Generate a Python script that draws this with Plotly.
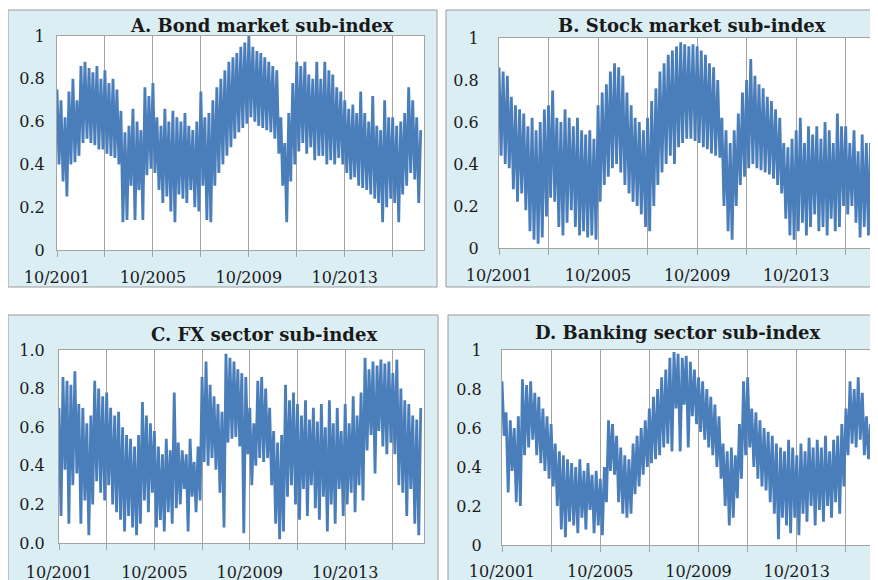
import pandas as pd
import plotly.graph_objects as go

# monthly readings from Oct 2001 to Dec 2016, one row per Oct..Sep year
bond = [
    0.75, 0.40, 0.70, 0.32, 0.62, 0.25, 0.74, 0.40, 0.80, 0.41, 0.70, 0.44,
    0.86, 0.50, 0.88, 0.52, 0.85, 0.50, 0.83, 0.49, 0.86, 0.47, 0.80, 0.47,
    0.84, 0.45, 0.78, 0.44, 0.80, 0.43, 0.75, 0.40, 0.65, 0.13, 0.55, 0.14,
    0.58, 0.30, 0.66, 0.14, 0.60, 0.28, 0.56, 0.14, 0.76, 0.35, 0.72, 0.38,
    0.78, 0.36, 0.62, 0.28, 0.58, 0.22, 0.66, 0.25, 0.60, 0.18, 0.65, 0.13,
    0.62, 0.26, 0.60, 0.24, 0.64, 0.22, 0.58, 0.28, 0.56, 0.20, 0.60, 0.18,
    0.74, 0.30, 0.62, 0.14, 0.64, 0.13, 0.70, 0.30, 0.76, 0.36, 0.80, 0.40,
    0.84, 0.44, 0.88, 0.48, 0.90, 0.52, 0.92, 0.55, 0.95, 0.57, 0.97, 0.59,
    1.00, 0.62, 0.95, 0.60, 0.93, 0.58, 0.92, 0.57, 0.90, 0.56, 0.88, 0.55,
    0.86, 0.52, 0.84, 0.45, 0.62, 0.30, 0.50, 0.13, 0.64, 0.32, 0.78, 0.40,
    0.88, 0.46, 0.86, 0.50, 0.88, 0.45, 0.82, 0.48, 0.80, 0.42, 0.88, 0.44,
    0.80, 0.44, 0.88, 0.40, 0.84, 0.42, 0.82, 0.40, 0.76, 0.43, 0.74, 0.40,
    0.70, 0.36, 0.66, 0.33, 0.68, 0.34, 0.64, 0.30, 0.74, 0.29, 0.64, 0.28,
    0.60, 0.26, 0.72, 0.24, 0.58, 0.22, 0.56, 0.13, 0.70, 0.20, 0.62, 0.24,
    0.62, 0.22, 0.58, 0.13, 0.60, 0.26, 0.64, 0.30, 0.76, 0.36, 0.70, 0.33,
    0.62, 0.22, 0.56,
]

stock = [
    0.86, 0.44, 0.84, 0.40, 0.82, 0.38, 0.72, 0.28, 0.68, 0.22, 0.66, 0.26,
    0.64, 0.18, 0.58, 0.08, 0.62, 0.04, 0.56, 0.02, 0.60, 0.05, 0.66, 0.15,
    0.68, 0.24, 0.75, 0.22, 0.62, 0.10, 0.60, 0.06, 0.66, 0.12, 0.62, 0.18,
    0.58, 0.10, 0.62, 0.06, 0.56, 0.08, 0.54, 0.05, 0.56, 0.06, 0.52, 0.04,
    0.68, 0.22, 0.74, 0.30, 0.78, 0.34, 0.84, 0.38, 0.88, 0.40, 0.86, 0.36,
    0.82, 0.30, 0.74, 0.26, 0.68, 0.22, 0.62, 0.20, 0.60, 0.16, 0.56, 0.10,
    0.62, 0.08, 0.70, 0.20, 0.76, 0.30, 0.84, 0.36, 0.88, 0.40, 0.92, 0.44,
    0.94, 0.40, 0.96, 0.48, 0.98, 0.50, 0.97, 0.52, 0.96, 0.52, 0.97, 0.51,
    0.96, 0.50, 0.94, 0.48, 0.92, 0.47, 0.88, 0.45, 0.86, 0.44, 0.80, 0.43,
    0.62, 0.20, 0.56, 0.08, 0.50, 0.04, 0.56, 0.20, 0.64, 0.30, 0.74, 0.34,
    0.80, 0.38, 0.90, 0.40, 0.82, 0.38, 0.78, 0.37, 0.76, 0.36, 0.72, 0.35,
    0.70, 0.33, 0.66, 0.30, 0.62, 0.26, 0.50, 0.14, 0.48, 0.06, 0.52, 0.04,
    0.56, 0.08, 0.62, 0.12, 0.50, 0.06, 0.58, 0.10, 0.54, 0.16, 0.58, 0.08,
    0.52, 0.10, 0.60, 0.06, 0.56, 0.14, 0.50, 0.08, 0.64, 0.10, 0.58, 0.20,
    0.58, 0.16, 0.50, 0.20, 0.56, 0.12, 0.46, 0.05, 0.54, 0.10, 0.50, 0.06,
    0.50, 0.18, 0.48,
]

fx = [
    0.70, 0.14, 0.86, 0.38, 0.84, 0.10, 0.82, 0.30, 0.89, 0.36, 0.72, 0.10,
    0.70, 0.22, 0.62, 0.04, 0.66, 0.20, 0.84, 0.32, 0.80, 0.26, 0.76, 0.22,
    0.78, 0.30, 0.70, 0.20, 0.66, 0.16, 0.68, 0.12, 0.60, 0.06, 0.56, 0.14,
    0.54, 0.08, 0.50, 0.04, 0.56, 0.10, 0.73, 0.22, 0.66, 0.16, 0.62, 0.26,
    0.58, 0.08, 0.50, 0.12, 0.46, 0.06, 0.54, 0.16, 0.48, 0.10, 0.78, 0.18,
    0.52, 0.20, 0.48, 0.28, 0.46, 0.06, 0.54, 0.24, 0.42, 0.16, 0.50, 0.22,
    0.86, 0.42, 0.94, 0.40, 0.82, 0.44, 0.76, 0.38, 0.72, 0.26, 0.68, 0.08,
    0.98, 0.52, 0.96, 0.54, 0.94, 0.55, 0.90, 0.50, 0.88, 0.05, 0.86, 0.46,
    0.70, 0.30, 0.62, 0.40, 0.84, 0.44, 0.86, 0.42, 0.80, 0.44, 0.70, 0.30,
    0.58, 0.10, 0.52, 0.02, 0.56, 0.06, 0.82, 0.24, 0.74, 0.30, 0.78, 0.20,
    0.72, 0.12, 0.66, 0.28, 0.74, 0.14, 0.64, 0.30, 0.70, 0.18, 0.63, 0.12,
    0.72, 0.24, 0.60, 0.06, 0.74, 0.20, 0.62, 0.10, 0.70, 0.28, 0.58, 0.14,
    0.72, 0.20, 0.62, 0.26, 0.76, 0.16, 0.66, 0.30, 0.78, 0.22, 0.96, 0.48,
    0.90, 0.56, 0.94, 0.36, 0.92, 0.58, 0.95, 0.50, 0.93, 0.46, 0.94, 0.52,
    0.88, 0.46, 0.95, 0.30, 0.80, 0.26, 0.74, 0.14, 0.72, 0.28, 0.66, 0.10,
    0.64, 0.04, 0.70,
]

banking = [
    0.84, 0.56, 0.68, 0.27, 0.64, 0.38, 0.60, 0.22, 0.66, 0.20, 0.85, 0.46,
    0.82, 0.50, 0.84, 0.54, 0.78, 0.46, 0.76, 0.42, 0.70, 0.38, 0.66, 0.34,
    0.62, 0.30, 0.52, 0.20, 0.48, 0.08, 0.46, 0.04, 0.44, 0.12, 0.42, 0.10,
    0.40, 0.06, 0.44, 0.14, 0.38, 0.08, 0.42, 0.18, 0.36, 0.06, 0.38, 0.10,
    0.34, 0.05, 0.40, 0.22, 0.64, 0.38, 0.62, 0.36, 0.56, 0.22, 0.50, 0.16,
    0.46, 0.14, 0.44, 0.16, 0.52, 0.26, 0.56, 0.30, 0.60, 0.36, 0.64, 0.40,
    0.70, 0.42, 0.76, 0.44, 0.80, 0.46, 0.86, 0.50, 0.90, 0.52, 0.96, 0.48,
    0.99, 0.70, 0.98, 0.48, 0.96, 0.72, 0.97, 0.50, 0.94, 0.66, 0.90, 0.62,
    0.86, 0.58, 0.84, 0.54, 0.80, 0.50, 0.76, 0.46, 0.72, 0.40, 0.66, 0.34,
    0.52, 0.20, 0.48, 0.10, 0.50, 0.14, 0.46, 0.24, 0.62, 0.34, 0.84, 0.46,
    0.86, 0.50, 0.70, 0.40, 0.68, 0.34, 0.64, 0.30, 0.60, 0.28, 0.58, 0.22,
    0.56, 0.16, 0.52, 0.03, 0.50, 0.14, 0.48, 0.10, 0.54, 0.06, 0.50, 0.14,
    0.46, 0.05, 0.52, 0.16, 0.48, 0.12, 0.55, 0.20, 0.50, 0.10, 0.54, 0.18,
    0.50, 0.12, 0.56, 0.20, 0.48, 0.14, 0.54, 0.22, 0.56, 0.16, 0.62, 0.30,
    0.70, 0.46, 0.84, 0.52, 0.80, 0.50, 0.86, 0.54, 0.78, 0.46, 0.66, 0.44,
    0.62, 0.30, 0.58,
]

titles = [
    "A. Bond market sub-index",
    "B. Stock market sub-index",
    "C. FX sector sub-index",
    "D. Banking sector sub-index",
]
xtick_labels = ["10/2001", "", "10/2005", "", "10/2009", "", "10/2013", ""]
ytick_vals = [0, 0.2, 0.4, 0.6, 0.8, 1]
ytick_plain = ["0", "0.2", "0.4", "0.6", "0.8", "1"]
ytick_fixed = ["0.0", "0.2", "0.4", "0.6", "0.8", "1.0"]

dates = pd.date_range("2001-10-01", periods=len(bond), freq="MS")
xtick_vals = pd.date_range("2001-10-01", periods=len(xtick_labels), freq="24MS")

# the page body adds an 8px margin, so the figure is drawn 8px smaller
# and all target pixel positions are shifted by that offset
OFF = 8
W, H = 878 - OFF, 580 - OFF
LINE = "#4a7ebb"
GRID = "#a3a3a3"
FONT = "DejaVu Serif"


def px(x):
    return (x - OFF) / W


def py(y):
    return 1 - (y - OFF) / H


# target pixels: plot area (x0, x1, y0, y1), outer panel (x0, y0, x1, y1)
panels = [
    dict(data=bond, plot=(57, 424, 36, 250), box=(8, 10, 437, 287), title=(262, 26),
         yt=ytick_plain, ystand=8, xstand=7),
    dict(data=stock, plot=(499, 878, 38, 248), box=(446, 10, 877, 287), title=(692, 26),
         yt=ytick_plain, ystand=16, xstand=7),
    dict(data=fx, plot=(59, 424, 350, 543), box=(8, 315, 438, 600), title=(264, 334),
         yt=ytick_fixed, ystand=10, xstand=9),
    dict(data=banking, plot=(502, 878, 350, 545), box=(448, 315, 877, 600), title=(678, 332),
         yt=ytick_plain, ystand=16, xstand=6),
]

fig = go.Figure()
shapes = []
annotations = []
layout = {}

for i, p in enumerate(panels):
    n = "" if i == 0 else str(i + 1)
    x0, x1, y0, y1 = p["plot"]
    bx0, by0, bx1, by1 = p["box"]

    fig.add_trace(go.Scatter(
        x=dates, y=p["data"], mode="lines",
        line=dict(color=LINE, width=2.8),
        xaxis="x" + n, yaxis="y" + n, showlegend=False,
    ))

    layout["xaxis" + n] = dict(
        domain=[max(px(x0), 0), min(px(x1), 1)],
        anchor="y" + n, automargin=False,
        range=["2001-10-01", "2017-01-20"],
        tickmode="array", tickvals=xtick_vals, ticktext=xtick_labels,
        showgrid=True, gridcolor=GRID, gridwidth=1,
        ticks="outside", ticklen=6, tickcolor=GRID,
        showline=True, linecolor=GRID, mirror=True,
        zeroline=False, ticklabelstandoff=p["xstand"],
        tickfont=dict(family=FONT, size=16, color="#1a1a1a"),
    )
    layout["yaxis" + n] = dict(
        domain=[max(py(y1), 0), min(py(y0), 1)],
        anchor="x" + n, automargin=False,
        range=[0, 1],
        tickmode="array", tickvals=ytick_vals, ticktext=p["yt"],
        showgrid=False, zeroline=False, ticks="",
        showline=True, linecolor=GRID, mirror=True,
        ticklabelstandoff=p["ystand"],
        tickfont=dict(family=FONT, size=16, color="#1a1a1a"),
    )

    shapes.append(dict(
        type="rect", xref="paper", yref="paper", layer="below",
        x0=px(bx0), x1=px(bx1), y0=py(by1), y1=py(by0),
        fillcolor="#dbeef4", line=dict(color="#9a9a9a", width=1),
    ))
    shapes.append(dict(
        type="rect", xref="x" + n + " domain", yref="y" + n + " domain", layer="below",
        x0=0, x1=1, y0=0, y1=1, fillcolor="white", line=dict(width=0),
    ))

    tx, ty = p["title"]
    annotations.append(dict(
        text="<b>" + titles[i] + "</b>", xref="paper", yref="paper",
        x=px(tx), y=py(ty), xanchor="center", yanchor="middle",
        showarrow=False, font=dict(family=FONT, size=18, color="#1a1a1a"),
    ))

fig.update_layout(
    width=W, height=H,
    margin=dict(l=0, r=0, t=0, b=0),
    paper_bgcolor="white", plot_bgcolor="white",
    shapes=shapes, annotations=annotations,
    showlegend=False,
    **layout,
)

fig.write_html("out.html")
